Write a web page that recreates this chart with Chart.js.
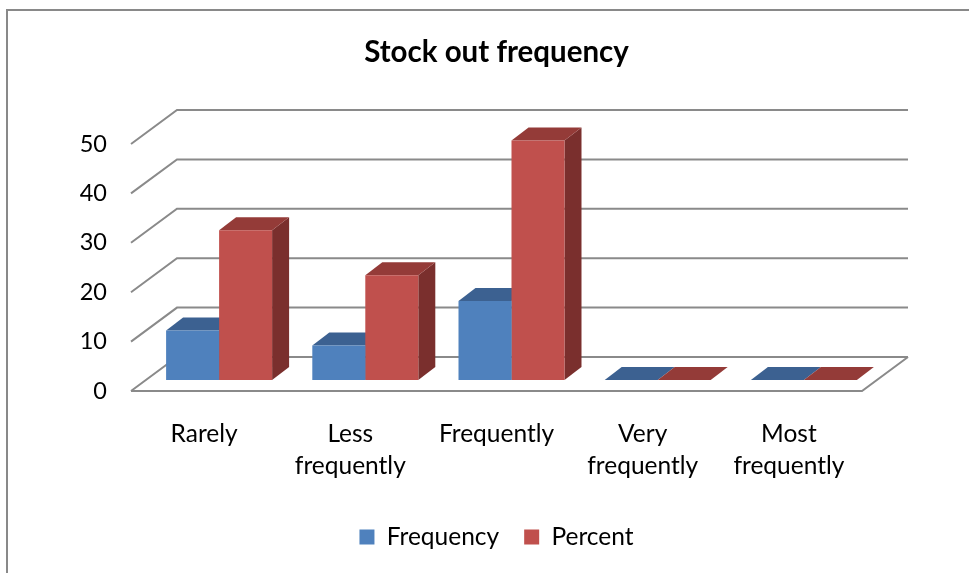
<!DOCTYPE html>
<html>
<head>
<meta charset="utf-8">
<script src="https://cdn.jsdelivr.net/npm/chart.js@4.4.1/dist/chart.umd.min.js"></script>
<style>
  html, body { margin: 0; padding: 0; background: #ffffff; }
  #wrap { width: 969px; height: 573px; }
</style>
</head>
<body>
<div id="wrap"><canvas id="c" width="969" height="573"></canvas></div>
<script>
// Categories and series
const categories = ['Rarely', ['Less', 'frequently'], 'Frequently', ['Very', 'frequently'], ['Most', 'frequently']];
const frequency = [10, 7, 16, 0, 0];
const percent = [30.3, 21.2, 48.5, 0, 0];
const yTicks = [0, 10, 20, 30, 40, 50];

// Oblique depth offsets (pixels) for the 3D look
const WALL = { dx: 46, dy: -34 };      // floor front edge -> back wall
const BAR_POS = { dx: 15, dy: -11 };   // floor front edge -> bar front face
const BAR_DEPTH = { dx: 17, dy: -13 }; // bar front face -> bar back face

const FACE = {
  Frequency: { front: '#4F81BD', top: '#3C6191', side: '#30507A' },
  Percent:   { front: '#C0504D', top: '#943B38', side: '#7A2F2D' }
};

const FONT = 'Lato, "Open Sans", "DejaVu Sans", sans-serif';

function poly(ctx, pts, color) {
  ctx.beginPath();
  ctx.moveTo(pts[0][0], pts[0][1]);
  for (let i = 1; i < pts.length; i++) ctx.lineTo(pts[i][0], pts[i][1]);
  ctx.closePath();
  ctx.fillStyle = color;
  ctx.fill();
}

const box3d = {
  id: 'box3d',
  beforeDraw(chart) {
    const ctx = chart.ctx;
    ctx.save();
    ctx.strokeStyle = '#898989';
    ctx.lineWidth = 2;
    ctx.strokeRect(7, 10, 1100, 1100);
    ctx.restore();
  },
  beforeDatasetsDraw(chart) {
    const { ctx, chartArea, scales } = chart;
    const { left, right } = chartArea;
    const y = scales.y;
    const y0 = y.getPixelForValue(0);

    ctx.save();
    ctx.strokeStyle = '#8A8A8A';
    ctx.lineWidth = 2;
    // side wall diagonals and back wall gridlines
    yTicks.forEach(v => {
      const py = y.getPixelForValue(v);
      ctx.beginPath();
      ctx.moveTo(left, py);
      ctx.lineTo(left + WALL.dx, py + WALL.dy);
      ctx.lineTo(right + WALL.dx, py + WALL.dy);
      ctx.stroke();
    });
    // floor front and right edges
    ctx.beginPath();
    ctx.moveTo(left, y0);
    ctx.lineTo(right, y0);
    ctx.lineTo(right + WALL.dx, y0 + WALL.dy);
    ctx.stroke();
    ctx.restore();

    // side and top faces of each bar, left to right
    const metas = chart.data.datasets.map((_, d) => chart.getDatasetMeta(d));
    for (let i = 0; i < chart.data.labels.length; i++) {
      metas.forEach((meta, d) => {
        const el = meta.data[i];
        if (!el) return;
        const p = el.getProps(['x', 'y', 'base', 'width'], true);
        const c = FACE[chart.data.datasets[d].label];
        const x1 = p.x - p.width / 2 + BAR_POS.dx;
        const x2 = p.x + p.width / 2 + BAR_POS.dx;
        const t = p.y + BAR_POS.dy;
        const b = p.base + BAR_POS.dy;
        const ddx = BAR_DEPTH.dx, ddy = BAR_DEPTH.dy;
        if (b - t > 0.5) {
          poly(ctx, [[x2, t], [x2 + ddx, t + ddy], [x2 + ddx, b + ddy], [x2, b]], c.side);
        }
        poly(ctx, [[x1, t], [x2, t], [x2 + ddx, t + ddy], [x1 + ddx, t + ddy]], c.top);
      });
    }

    // front faces are drawn by the library, shifted into depth
    ctx.save();
    ctx.translate(BAR_POS.dx, BAR_POS.dy);
  },
  afterDatasetsDraw(chart) {
    chart.ctx.restore();
  }
};

new Chart(document.getElementById('c'), {
  type: 'bar',
  data: {
    labels: categories,
    datasets: [
      { label: 'Frequency', data: frequency, backgroundColor: FACE.Frequency.front, borderWidth: 0, clip: false },
      { label: 'Percent', data: percent, backgroundColor: FACE.Percent.front, borderWidth: 0, clip: false }
    ]
  },
  plugins: [box3d],
  options: {
    responsive: false,
    devicePixelRatio: 1,
    animation: false,
    events: [],
    layout: { padding: { left: 24, right: 0, top: 0, bottom: 13.75 } },
    datasets: { bar: { categoryPercentage: 0.725, barPercentage: 1.0 } },
    plugins: {
      tooltip: { enabled: false },
      title: {
        display: true,
        text: 'Stock out frequency',
        color: '#000000',
        font: { family: FONT, size: 29.5, weight: 'bold', lineHeight: 1.2 },
        padding: { top: 34.3, bottom: 74.3 }
      },
      legend: {
        display: true,
        position: 'bottom',
        labels: {
          color: '#000000',
          font: { family: FONT, size: 24.5 },
          boxWidth: 15,
          boxHeight: 15,
          padding: 25
        }
      }
    },
    scales: {
      x: {
        grid: { display: false, drawTicks: false },
        border: { display: false },
        ticks: {
          color: '#000000',
          font: { family: FONT, size: 24.5, lineHeight: 1.306 },
          padding: 27,
          maxRotation: 0,
          autoSkip: false
        },
        afterFit(s) { s.height = 108.75; }
      },
      y: {
        min: 0,
        max: 50,
        grid: { display: false, drawTicks: false },
        border: { display: false },
        ticks: {
          stepSize: 10,
          color: '#000000',
          font: { family: FONT, size: 23.5 },
          padding: 24
        },
        afterFit(s) { s.width = 107; }
      },
      yRight: {
        position: 'right',
        display: true,
        grid: { display: false, drawTicks: false },
        border: { display: false },
        ticks: { display: false },
        afterFit(s) { s.width = 107; }
      }
    }
  }
});
</script>
</body>
</html>
